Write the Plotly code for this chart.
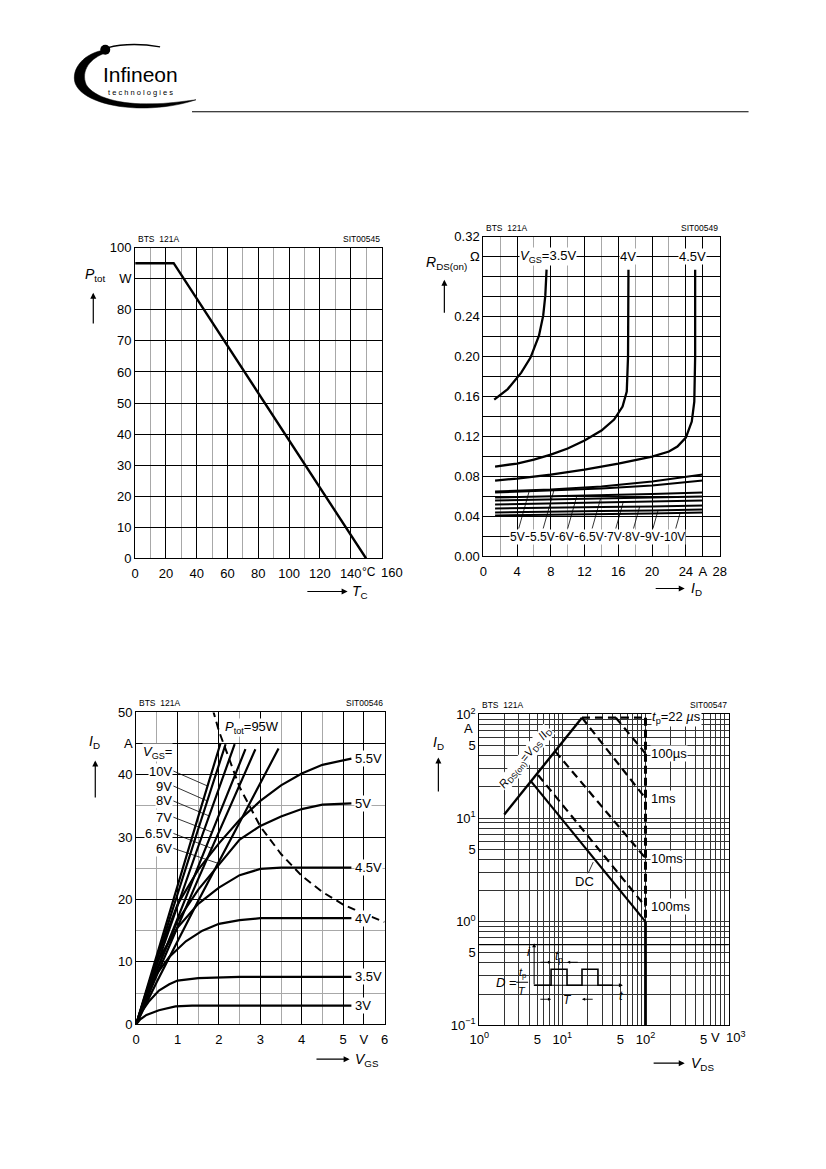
import math
import numpy as np
import plotly.graph_objects as go

W, H = 826, 1169
FONT = "Liberation Sans, Arial, Helvetica, sans-serif"

# ---------------- Chart 1: P_tot vs T_C ----------------
tc_x = [0, 25, 150]
ptot_y = [95, 95, 0]
c1_xticks = [0, 20, 40, 60, 80, 100, 120, 140, 160]
c1_xtext = ["0", "20", "40", "60", "80", "100", "120", "140", ""]
c1_yticks = [0, 10, 20, 30, 40, 50, 60, 70, 80, 90, 100]
c1_ytext = ["0", "10", "20", "30", "40", "50", "60", "70", "80", "W", "100"]

# ---------------- Chart 2: R_DS(on) vs I_D ----------------
id_35 = [1.3, 2.9, 4.5, 5.6, 6.6, 7.1, 7.35, 7.5]
rds_35 = [0.157, 0.1675, 0.184, 0.199, 0.221, 0.241, 0.261, 0.287]
id_40 = [1.4, 4, 6, 8, 10, 12, 14, 15.5, 16.5, 17.0, 17.15, 17.2]
rds_40 = [0.090, 0.093, 0.097, 0.102, 0.108, 0.116, 0.126, 0.137, 0.150, 0.165, 0.200, 0.287]
id_45 = [1.4, 4, 8, 12, 16, 20, 22, 23, 24, 24.7, 25.0, 25.1, 25.1]
rds_45 = [0.076, 0.078, 0.082, 0.087, 0.093, 0.100, 0.105, 0.110, 0.119, 0.135, 0.155, 0.200, 0.287]
id_low = [1.4, 8, 14, 20, 26]
rds_5v = [0.065, 0.067, 0.070, 0.075, 0.082]
rds_55v = [0.064, 0.066, 0.068, 0.071, 0.076]
rds_6v = [0.059, 0.060, 0.061, 0.0625, 0.064]
rds_65v = [0.056, 0.057, 0.058, 0.059, 0.060]
rds_7v = [0.052, 0.053, 0.054, 0.055, 0.056]
rds_8v = [0.048, 0.049, 0.0495, 0.050, 0.051]
rds_9v = [0.044, 0.045, 0.0455, 0.046, 0.047]
rds_10v = [0.041, 0.0415, 0.042, 0.043, 0.044]
low_names = ["5V", "5.5V", "6V", "6.5V", "7V", "8V", "9V", "10V"]
low_label_x = [4.1, 7.0, 9.9, 12.8, 15.6, 17.7, 20.0, 22.7]
top_names = ["<i>V</i><sub>GS</sub>=3.5V", "4V", "4.5V"]
top_label_x = [7.7, 17.1, 24.8]
c2_xticks = [0, 4, 8, 12, 16, 20, 24, 26, 28]
c2_xtext = ["0", "4", "8", "12", "16", "20", "24", "A", "28"]
c2_yticks = [round(0.02 * k, 2) for k in range(17)]
c2_ytext = ["0.00", "", "0.04", "", "0.08", "", "0.12", "", "0.16", "", "0.20", "",
            "0.24", "", "", "Ω", "0.32"]

# ---------------- Chart 3: I_D vs V ----------------
v_3 = [0, 0.1, 0.25, 0.55, 0.95, 1.35, 5.2]
i_3 = [0, 0.8, 1.5, 2.25, 2.85, 3.0, 3.0]
v_35 = [0, 0.15, 0.3, 0.55, 0.8, 1.0, 1.5, 2.0, 2.5, 5.2]
i_35 = [0, 2.2, 3.6, 5.4, 6.4, 7.0, 7.4, 7.55, 7.6, 7.6]
v_4 = [0, 0.4, 0.8, 1.2, 1.6, 2.0, 2.5, 3.0, 5.2]
i_4 = [0, 7.2, 10.8, 13.3, 15.0, 16.1, 16.7, 17.0, 17.0]
v_45 = [0, 0.5, 1.0, 1.5, 2.0, 2.5, 3.0, 3.5, 5.2]
i_45 = [0, 10.0, 15.5, 19.3, 21.9, 23.9, 24.9, 25.1, 25.1]
v_5 = [0, 0.5, 1.0, 1.5, 2.0, 2.5, 3.0, 3.5, 4.0, 4.5, 5.2]
i_5 = [0, 8.8, 16.6, 21.6, 25.6, 29.6, 31.8, 33.3, 34.5, 35.2, 35.4]
v_55 = [0, 0.5, 1.0, 1.5, 2.0, 2.5, 3.0, 3.5, 4.0, 4.5, 5.2]
i_55 = [0, 10.5, 19.2, 24.8, 29.0, 32.8, 35.8, 38.3, 40.2, 41.6, 42.6]
v_6 = [0, 0.5, 1.5, 2.5, 3.44]
i_6 = [0, 6.8, 19.8, 32.3, 44.2]
v_65 = [0, 0.5, 1.5, 2.88]
i_65 = [0, 7.9, 23.3, 44.1]
v_7 = [0, 0.5, 1.5, 2.64]
i_7 = [0, 8.6, 25.3, 44.1]
v_8 = [0, 0.5, 1.5, 2.38]
i_8 = [0, 9.6, 28.5, 44.9]
v_9 = [0, 0.5, 1.5, 2.16]
i_9 = [0, 10.5, 31.3, 44.9]
v_10 = [0, 0.5, 1.5, 2.04]
i_10 = [0, 11.2, 33.3, 45.1]
v_pd = [1.85, 2.0, 2.5, 3.0, 3.5, 4.0, 4.5, 5.0, 5.5, 6.0]
i_pd = [50.5, 47.0, 38.0, 31.7, 27.3, 23.8, 21.2, 19.2, 17.7, 16.4]
right_names = ["5.5V", "5V", "4.5V", "4V", "3.5V", "3V"]
left_names = ["10V", "9V", "8V", "7V", "6.5V", "6V"]
left_label_y = [40.6, 38.2, 35.8, 33.2, 30.6, 28.2]
c3_xticks = [0, 1, 2, 3, 4, 5, 5.5, 6]
c3_xtext = ["0", "1", "2", "3", "4", "5", "V", "6"]
c3_yticks = [0, 10, 20, 30, 40, 45, 50]
c3_ytext = ["0", "10", "20", "30", "40", "A", "50"]

# ---------------- Chart 4: SOA (log-log) ----------------
v_rds = [2.0, 17.2]
i_rds = [10.8, 93]
v_tp22 = [17.2, 100]
i_tp22 = [93, 93]
v_100us = [44, 100]
i_100us = [93, 42]
v_1ms = [17.2, 100]
i_1ms = [93, 15.5]
v_10ms = [8.2, 100]
i_10ms = [44, 4.1]
v_100ms = [5.1, 100]
i_100ms = [26, 1.4]
v_dc = [4.2, 100]
i_dc = [22.6, 1.0]
v_lim = [100, 100]
i_lim_pulse = [93, 1.0]
i_lim_dc = [1.0, 0.1]
soa_names = ["100µs", "1ms", "10ms", "100ms"]
soa_label_i = [42, 15.5, 4.1, 1.4]

decades_x = [1, 10, 100]
decades_y = [0.1, 1, 10]
c4_xticks = [round(d * m, 6) for d in decades_x for m in range(1, 10)] + [1000]
c4_xlabels = {1: "10<sup>0</sup>", 5: "5", 10: "10<sup>1</sup>", 50: "5", 100: "10<sup>2</sup>",
              500: "5"}
c4_xtext = [c4_xlabels.get(v, "") for v in c4_xticks]
c4_yticks = [round(d * m, 6) for d in decades_y for m in range(1, 10)] + [100]
c4_ylabels = {0.1: "10<sup>−1</sup>", 0.5: "5", 1: "10<sup>0</sup>", 5: "5", 10: "10<sup>1</sup>",
              50: "5", 100: "10<sup>2</sup>"}
c4_ytext = [c4_ylabels.get(v, "") for v in c4_yticks]

# ---------------- page geometry (target pixels) ----------------
BOX_TL = (133, 247, 380, 558)
BOX_TR = (482, 236, 719, 556)
BOX_BL = (134, 712, 383, 1024)
BOX_BR = (478, 714, 728, 1025)

# measured page-to-photo mapping of the viewer (scale, offset), compensated here
SX, OX = 0.982, 7.5
SY, OY = 0.986, 8.2


def px(x):
    return ((x - OX) / SX) / W


def py(y):
    return 1 - ((y - OY) / SY) / H


def dom(box):
    l, t, r, b = box
    return [px(l), px(r)], [py(b), py(t)]


fig = go.Figure()


def curve(x, y, ax, width=2.3, dash=None):
    fig.add_trace(go.Scatter(x=x, y=y, mode="lines", xaxis=ax[0], yaxis=ax[1],
                             line=dict(color="black", width=width, dash=dash),
                             showlegend=False, hoverinfo="skip"))


A1, A2, A3, A4 = ("x", "y"), ("x2", "y2"), ("x3", "y3"), ("x4", "y4")

# chart 1
curve(tc_x, ptot_y, A1, 2.4)

# chart 2
curve(id_35, rds_35, A2)
curve(id_40, rds_40, A2)
curve(id_45, rds_45, A2)
low_sets = [rds_5v, rds_55v, rds_6v, rds_65v, rds_7v, rds_8v, rds_9v, rds_10v]
for ys in low_sets:
    curve(id_low, ys, A2, 2.0)
for lx, ys in zip(low_label_x, low_sets):
    y0 = 0.028
    yc = float(np.interp(lx + 1.0, id_low, ys))
    x1 = lx + 0.1 + (yc - y0) / 0.03
    yc = float(np.interp(x1, id_low, ys))
    curve([lx + 0.1, x1], [y0, yc], A2, 0.8)

# chart 3
for vv, ii in [(v_3, i_3), (v_35, i_35), (v_4, i_4), (v_45, i_45), (v_5, i_5), (v_55, i_55),
               (v_6, i_6), (v_65, i_65), (v_7, i_7), (v_8, i_8), (v_9, i_9), (v_10, i_10)]:
    curve(vv, ii, A3, 2.2)
curve(v_pd, i_pd, A3, 2.0, "8px,5px")
steep_sets = [(v_10, i_10), (v_9, i_9), (v_8, i_8), (v_7, i_7), (v_65, i_65), (v_6, i_6)]
for ly, (vv, ii) in zip(left_label_y, steep_sets):
    yt = ly - 2.4
    xt = float(np.interp(yt, ii, vv))
    curve([0.9, xt], [ly, yt], A3, 0.8)

# chart 4
curve(v_rds, i_rds, A4, 2.4)
curve(v_tp22, i_tp22, A4, 2.2, "8px,5px")
curve(v_100us, i_100us, A4, 2.2, "8px,5px")
curve(v_1ms, i_1ms, A4, 2.2, "8px,5px")
curve(v_10ms, i_10ms, A4, 2.2, "8px,5px")
curve(v_100ms, i_100ms, A4, 2.2, "8px,5px")
curve(v_dc, i_dc, A4, 2.2)
curve(v_lim, i_lim_pulse, A4, 3.0, "8px,4px")
curve(v_lim, i_lim_dc, A4, 2.8)
curve([20.5, 23.5], [2.95, 3.75], A4, 0.8)

# ---------------- axes ----------------
TF = dict(family=FONT, size=13, color="black")


def axstyle(**kw):
    d = dict(showline=True, linecolor="black", linewidth=1, mirror=True, ticks="",
             showgrid=True, gridcolor="black", gridwidth=1, zeroline=False,
             tickfont=TF, fixedrange=True, tickmode="array")
    d.update(kw)
    return d


def minor(dt, color="#a8a8a8"):
    return dict(dtick=dt, tick0=0, showgrid=True, gridcolor=color, gridwidth=1, ticks="")


d1x, d1y = dom(BOX_TL)
d2x, d2y = dom(BOX_TR)
d3x, d3y = dom(BOX_BL)
d4x, d4y = dom(BOX_BR)

fig.update_layout(
    width=W, height=H, margin=dict(l=0, r=0, t=0, b=0),
    paper_bgcolor="white", plot_bgcolor="rgba(0,0,0,0)",
    font=dict(family=FONT, color="black"), showlegend=False,
    xaxis=axstyle(domain=d1x, anchor="y", range=[0, 160], tickvals=c1_xticks, ticktext=c1_xtext,
                  minor=minor(10), ticklabelstandoff=3),
    yaxis=axstyle(domain=d1y, anchor="x", range=[0, 100], tickvals=c1_yticks, ticktext=c1_ytext),
    xaxis2=axstyle(domain=d2x, anchor="y2", range=[0, 28], tickvals=c2_xticks, ticktext=c2_xtext,
                   minor=minor(2), ticklabelstandoff=3),
    yaxis2=axstyle(domain=d2y, anchor="x2", range=[0, 0.32], tickvals=c2_yticks, ticktext=c2_ytext),
    xaxis3=axstyle(domain=d3x, anchor="y3", range=[0, 6], tickvals=c3_xticks, ticktext=c3_xtext,
                   minor=minor(0.5), ticklabelstandoff=3),
    yaxis3=axstyle(domain=d3y, anchor="x3", range=[0, 50], tickvals=c3_yticks, ticktext=c3_ytext,
                   minor=minor(5)),
    xaxis4=axstyle(domain=d4x, anchor="y4", type="log", range=[0, 3], tickvals=c4_xticks,
                   ticktext=c4_xtext, gridcolor="#333", ticklabelstandoff=2),
    yaxis4=axstyle(domain=d4y, anchor="x4", type="log", range=[-1, 2], tickvals=c4_yticks,
                   ticktext=c4_ytext, gridcolor="#333"),
)

ann = []
shapes = []


def text(x, y, s, size=12, xref="paper", yref="paper", xanchor="center", yanchor="middle",
         bg=None, family=FONT, angle=0):
    a = dict(x=x, y=y, xref=xref, yref=yref, text=s, showarrow=False, xanchor=xanchor,
             yanchor=yanchor, font=dict(family=family, size=size, color="black"), textangle=angle)
    if bg:
        a.update(bgcolor=bg, borderpad=0)
    ann.append(a)


def ptext(x, y, s, size=12, **kw):
    text(px(x), py(y), s, size=size, **kw)


def arrow(xh, yh, xt, yt, width=1.2, head=2, size=1.0):
    ann.append(dict(x=px(xh), y=py(yh), xref="paper", yref="paper", ax=(xt - xh) / SX,
                    ay=(yt - yh) / SY, axref="pixel", ayref="pixel", text="", showarrow=True,
                    arrowhead=head, arrowsize=size, arrowwidth=width, arrowcolor="black"))


def pline(x0, y0, x1, y1, width=1):
    shapes.append(dict(type="line", xref="paper", yref="paper", x0=px(x0), y0=py(y0),
                       x1=px(x1), y1=py(y1), line=dict(color="black", width=width)))


# headers
for box, code in [(BOX_TL, "SIT00545"), (BOX_TR, "SIT00549"), (BOX_BL, "SIT00546"),
                  (BOX_BR, "SIT00547")]:
    l, t, r, b = box
    ptext(l + 1, t - 2, "BTS  121A", size=8.5, xanchor="left", yanchor="bottom")
    ptext(r, t - 2, code, size=8.5, xanchor="right", yanchor="bottom")

# axis titles and unit labels
ptext(93, 274, "<i>P</i><sub>tot</sub>", size=14)
arrow(91, 292, 91, 324)
ptext(348, 592, "<i>T</i><sub>C</sub>", size=14, xanchor="left")
arrow(346, 591, 305, 591)
ptext(358.5, 572, "°C", size=12, xanchor="left")
ptext(391, 572, "160", size=13)

ptext(445, 262, "<i>R</i><sub>DS(on)</sub>", size=14)
arrow(443, 279, 443, 313)
ptext(688, 589, "<i>I</i><sub>D</sub>", size=14, xanchor="left")
arrow(684, 588, 654, 588)

ptext(92, 742, "<i>I</i><sub>D</sub>", size=14)
arrow(93, 760, 93, 798)
ptext(351, 1060, "<i>V</i><sub>GS</sub>", size=14, xanchor="left")
arrow(348, 1059, 314, 1059)

ptext(437, 743, "<i>I</i><sub>D</sub>", size=14)
arrow(437, 757, 437, 792)
ptext(688, 1064, "<i>V</i><sub>DS</sub>", size=14, xanchor="left")
arrow(684, 1063, 652, 1063)
ptext(715, 1037, "V", size=13)
ptext(723, 1037, "10<sup>3</sup>", size=13, xanchor="left")
ptext(467, 728, "A", size=13)

# chart 2 labels
for nm, lx in zip(top_names, top_label_x):
    text(lx, 0.30, nm, xref="x2", yref="y2", bg="white", size=13)
for nm, lx in zip(low_names, low_label_x):
    text(lx, 0.02, nm, xref="x2", yref="y2", bg="white", size=12)

# chart 3 labels
right_y = [i_55[-1], i_5[-1], i_45[-1], i_4[-1], i_35[-1], i_3[-1]]
for nm, yy in zip(right_names, right_y):
    text(5.27, yy, nm, xref="x3", yref="y3", bg="white", xanchor="left", size=13)
text(0.9, 43.6, "<i>V</i><sub>GS</sub>=", xref="x3", yref="y3", bg="white", xanchor="right", size=13)
for nm, yy in zip(left_names, left_label_y):
    text(0.9, yy, nm, xref="x3", yref="y3", bg="white", xanchor="right", size=13)
text(2.12, 47.6, "<i>P</i><sub>tot</sub>=95W", xref="x3", yref="y3", bg="white",
     xanchor="left", size=13)

# chart 4 labels
L = math.log10
text(L(118), L(93), "<i>t</i><sub>p</sub>=22 <i>µ</i>s", xref="x4", yref="y4", bg="white",
     xanchor="left", size=13)
for nm, yy in zip(soa_names, soa_label_i):
    text(L(114), L(yy), nm, xref="x4", yref="y4", bg="white", xanchor="left", size=13)
text(L(18.5), L(2.45), "DC", xref="x4", yref="y4", bg="white", size=13)
text(L(3.6), L(38), "<i>R</i><sub>DS(on)</sub>=<i>V</i><sub>DS</sub> /<i>I</i><sub>D</sub>",
     xref="x4", yref="y4", bg="white", size=11.5, angle=-51)
shapes.append(dict(type="line", xref="x4 domain", yref="y4 domain", x0=0, x1=1,
                   y0=(L(0.6) + 1) / 3, y1=(L(0.6) + 1) / 3, line=dict(color="black", width=1.2)))

# pulse inset (chart 4)
arrow(533, 943, 533, 985, width=1, size=0.8)
arrow(622, 985, 533, 985, width=1, size=0.8)
wave = [(533, 985), (550, 985), (550, 969), (566, 969), (566, 985), (581, 985), (581, 969),
        (597, 969), (597, 985), (612, 985)]
path = "M " + " L ".join(f"{px(x):.5f},{py(y):.5f}" for x, y in wave)
shapes.append(dict(type="path", xref="paper", yref="paper", path=path,
                   line=dict(color="black", width=1.6)))
arrow(550, 962, 538, 962, width=0.9, size=0.7)
arrow(566, 962, 578, 962, width=0.9, size=0.7)
arrow(550, 999, 538, 999, width=0.9, size=0.7)
arrow(581, 999, 593, 999, width=0.9, size=0.7)
ptext(558, 957, "<i>t</i><sub>p</sub>", size=12)
ptext(566, 1000, "<i>T</i>", size=12)
ptext(528, 951, "<i>i</i>", size=13)
ptext(621, 995, "<i>t</i>", size=13)
ptext(505, 982, "<i>D</i> =", size=13)
ptext(521, 973, "<i>t</i><sub>p</sub>", size=11)
ptext(521, 991, "<i>T</i>", size=11)
pline(515, 982, 527, 982, 1)

# logo + header rule
pline(190, 111, 748, 111, 1.2)


def ppath(cmds):
    out = []
    for c in cmds:
        if isinstance(c, str):
            out.append(c)
        else:
            out.append(f"{px(c[0]):.5f},{py(c[1]):.5f}")
    return " ".join(out)


swoosh = ppath(["M", (103, 49), "C", (82, 52), (68, 68), (73, 83), "C", (80, 100), (115, 109),
                (150, 107), "C", (168, 106), (182, 103), (194, 99), "C", (178, 101), (165, 103),
                (150, 103), "C", (118, 104), (92, 97), (84, 84), "C", (78, 70), (88, 57),
                (104, 52), "Z"])
shapes.append(dict(type="path", xref="paper", yref="paper", path=swoosh, fillcolor="black",
                   line=dict(color="black", width=0.5)))
arc = ppath(["M", (105, 47), "C", (120, 43), (140, 43), (158, 46)])
shapes.append(dict(type="path", xref="paper", yref="paper", path=arc,
                   line=dict(color="black", width=1.3)))
shapes.append(dict(type="circle", xref="paper", yref="paper", x0=px(98), x1=px(108),
                   y0=py(54), y1=py(44), fillcolor="black", line=dict(color="black", width=0)))
ptext(138, 74, "Infineon", size=21, family=FONT)
ptext(138, 92, "t e c h n o l o g i e s", size=7.5, family=FONT)

fig.update_layout(annotations=ann, shapes=shapes)
fig.write_html(
    "out.html",
    config={"displayModeBar": False},
    post_script="document.body.style.margin='0px';document.body.style.padding='0px';"
                "document.documentElement.style.overflow='hidden';"
                "document.body.style.overflow='hidden';",
)
